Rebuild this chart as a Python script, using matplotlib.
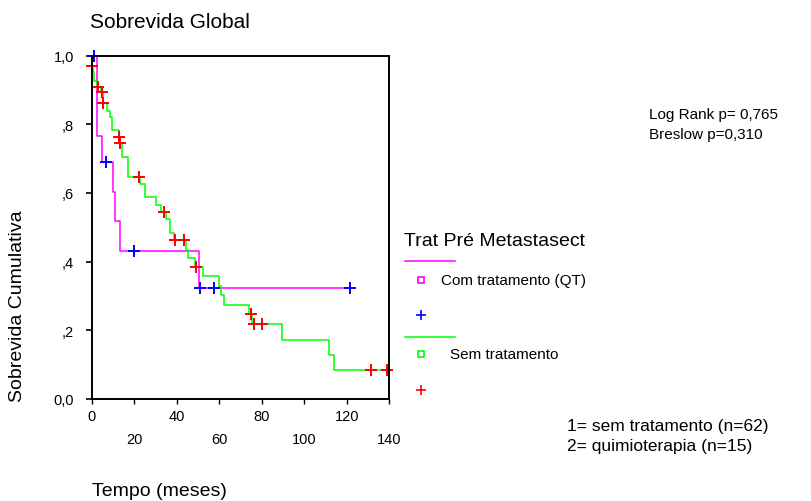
import matplotlib.pyplot as plt
from matplotlib.lines import Line2D

##############################################################################

# Kaplan-Meier steps, Com tratamento (QT), n=15
com_t = [0, 2.7, 5.0, 10.1, 11.2, 13.2, 50.4, 121.6]
com_s = [1.0, 0.767, 0.691, 0.602, 0.517, 0.432, 0.322, 0.322]
com_cens_t = [1.4, 6.6, 19.9, 50.8, 57.6, 121.6]
com_cens_s = [1.0, 0.691, 0.432, 0.322, 0.322, 0.322]

# Kaplan-Meier steps, Sem tratamento, n=62
sem_t = [0, 0.1, 0.8, 1.4, 2.5, 4.5, 5.3, 7.4, 8.5, 9.6, 12.8, 13.1, 14.4,
         17.1, 22.9, 24.9, 30.4, 32.8, 34.8, 37.0, 38.6, 44.2, 45.3, 48.5,
         52.4, 59.9, 60.7, 62.1, 74.0, 75.6, 89.6, 111.7, 114.0, 138.7]
sem_s = [1.0, 0.968, 0.952, 0.927, 0.909, 0.893, 0.861, 0.839, 0.820, 0.783,
         0.762, 0.744, 0.705, 0.647, 0.626, 0.587, 0.565, 0.545, 0.524, 0.483,
         0.464, 0.434, 0.410, 0.385, 0.357, 0.330, 0.303, 0.275, 0.247, 0.218,
         0.173, 0.129, 0.084, 0.084]
sem_cens_t = [0.2, 2.9, 5.0, 5.6, 13.0, 13.3, 22.3, 33.9, 39.1, 43.4, 48.9,
              74.7, 76.2, 79.9, 131.2, 138.7]
sem_cens_s = [0.968, 0.909, 0.893, 0.861, 0.762, 0.744, 0.647, 0.545, 0.464,
              0.464, 0.385, 0.247, 0.218, 0.218, 0.084, 0.084]

y_ticks = [0.0, 0.2, 0.4, 0.6, 0.8, 1.0]
y_labels = ['0,0', ',2', ',4', ',6', ',8', '1,0']
x_major = [0, 40, 80, 120]
x_minor = [20, 60, 100, 140]

##############################################################################

plt.rcParams['font.family'] = ['Liberation Sans', 'DejaVu Sans']

W, H = 811, 502
fig = plt.figure(figsize=(W / 100, H / 100), dpi=100)
ax = fig.add_axes([91.5 / W, 1 - 400 / H, 298 / W, 343.5 / H])

def fx(px):
    return px / W

def fy(py):
    return 1 - py / H

ax.step(com_t, com_s, where='post', color='#ff00ff', lw=1.1)
ax.step(sem_t, sem_s, where='post', color='#00ff00', lw=1.1)
ax.plot(com_cens_t, com_cens_s, ls='none', marker='+', ms=8.5, mew=1.4,
        color='#0000ff', clip_on=False)
ax.plot(sem_cens_t, sem_cens_s, ls='none', marker='+', ms=8.5, mew=1.4,
        color='#ff0000', clip_on=False)

ax.set_xlim(0, 140)
ax.set_ylim(0, 1)
for s in ax.spines.values():
    s.set_linewidth(1.4)
    s.set_color('black')

ax.set_yticks(y_ticks)
ax.set_yticklabels(y_labels)
ax.set_xticks(x_major)
ax.set_xticklabels([str(v) for v in x_major])
ax.set_xticks(x_minor, minor=True)
ax.set_xticklabels([str(v) for v in x_minor], minor=True)
ax.tick_params(axis='y', direction='out', length=4.5, width=1.2,
               pad=8, labelsize=10.5)
ax.tick_params(axis='x', which='major', direction='out', length=3.5,
               width=1.0, pad=4, labelsize=10.5)
ax.tick_params(axis='x', which='minor', direction='out', length=3.5,
               width=1.0, pad=20.5, labelsize=10.5)

# titles and axis labels
fig.text(fx(90), fy(22), 'Sobrevida Global', fontsize=15, va='center')
fig.text(fx(18), fy(306), 'Sobrevida Cumulativa', fontsize=14,
         rotation=90, ha='center', va='center')
fig.text(fx(92), fy(492), 'Tempo (meses)', fontsize=14, va='center')

# test statistics
fig.text(fx(649), fy(115), 'Log Rank p= 0,765', fontsize=11, va='center')
fig.text(fx(649), fy(135), 'Breslow p=0,310', fontsize=11, va='center')
fig.text(fx(567), fy(427), '1= sem tratamento (n=62)', fontsize=12.5,
         va='center')
fig.text(fx(567), fy(447), '2= quimioterapia (n=15)', fontsize=12.5,
         va='center')

# legend
fig.text(fx(404), fy(242), 'Trat Pré Metastasect', fontsize=14, va='center')
fig.add_artist(Line2D([fx(405), fx(455)], [fy(262), fy(262)],
                      color='#ff00ff', lw=1.1))
fig.add_artist(Line2D([fx(421)], [fy(281)], ls='none', marker='s', ms=5,
                      mfc='white', mec='#ff00ff', mew=1.2))
fig.text(fx(441), fy(281), 'Com tratamento (QT)', fontsize=11, va='center')
fig.add_artist(Line2D([fx(421)], [fy(316)], ls='none', marker='+', ms=7,
                      mew=1.2, color='#0000ff'))
fig.add_artist(Line2D([fx(405), fx(455)], [fy(338), fy(338)],
                      color='#00ff00', lw=1.1))
fig.add_artist(Line2D([fx(421)], [fy(355)], ls='none', marker='s', ms=5,
                      mfc='white', mec='#00ff00', mew=1.2))
fig.text(fx(450), fy(355), 'Sem tratamento', fontsize=11, va='center')
fig.add_artist(Line2D([fx(421)], [fy(391)], ls='none', marker='+', ms=7,
                      mew=1.2, color='#ff0000'))

plt.savefig('out.png', dpi=100)
plt.close()
